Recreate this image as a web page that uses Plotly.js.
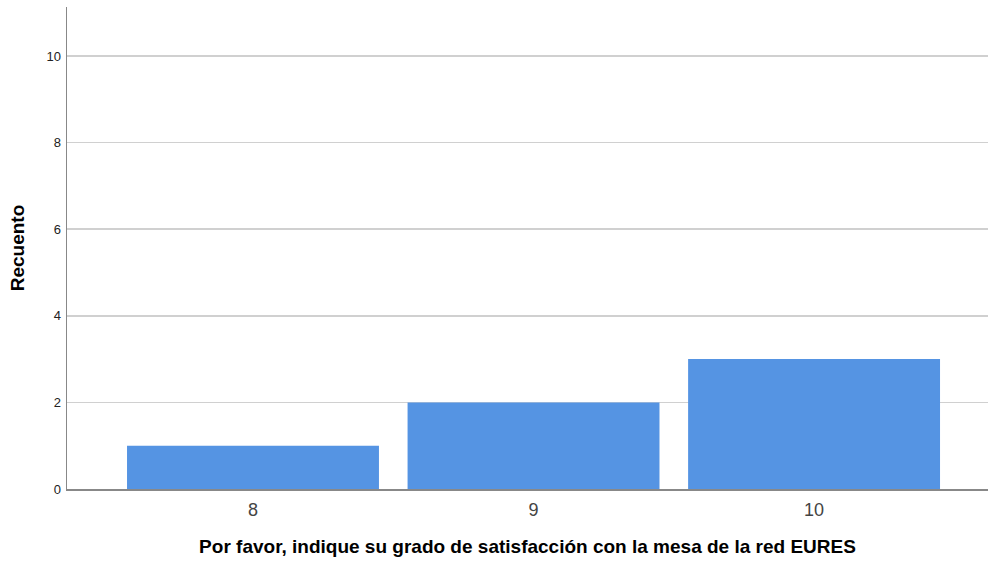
<!DOCTYPE html>
<html>
<head>
<meta charset="utf-8">
<script src="https://cdn.plot.ly/plotly-3.0.1.min.js"></script>
<style>html,body{margin:0;padding:0;background:#fff;}#chart{width:989px;height:562px;}</style>
</head>
<body>
<div id="chart"></div>
<script>
const categories = ["8", "9", "10"];
const counts = [1, 2, 3];
const yTicks = [0, 2, 4, 6, 8, 10];

const trace = {
  type: "bar",
  x: categories,
  y: counts,
  width: 0.898,
  marker: { color: "#5594E3", line: { width: 0 } },
  hoverinfo: "x+y"
};

const layout = {
  width: 989,
  height: 562,
  margin: { l: 67, r: 1, t: 7, b: 73 },
  paper_bgcolor: "#ffffff",
  plot_bgcolor: "#ffffff",
  showlegend: false,
  font: { family: "Liberation Sans, Arial, sans-serif", color: "#000" },
  xaxis: {
    type: "category",
    range: [-0.663, 2.62],
    showgrid: false,
    showline: true,
    linecolor: "#888888",
    linewidth: 1.5,
    ticks: "",
    tickfont: { size: 18, color: "#444444" },
    ticklabelstandoff: 4,
    title: { text: "<b>Por favor, indique su grado de satisfacción con la mesa de la red EURES</b>", font: { size: 19, color: "#000" }, standoff: 20 },
    zeroline: false
  },
  yaxis: {
    range: [0, 11.13],
    tickvals: yTicks,
    ticktext: yTicks.map(String),
    showgrid: true,
    gridcolor: "#d0d0d0",
    gridwidth: 1.5,
    showline: true,
    linecolor: "#888888",
    linewidth: 1.5,
    ticks: "",
    tickfont: { size: 13, color: "#222" },
    ticklabelstandoff: 2,
    title: { text: "<b>Recuento</b>", font: { size: 19, color: "#000" }, standoff: 17 },
    zeroline: false
  }
};

Plotly.newPlot("chart", [trace], layout, { displayModeBar: false, staticPlot: true });
</script>
</body>
</html>
